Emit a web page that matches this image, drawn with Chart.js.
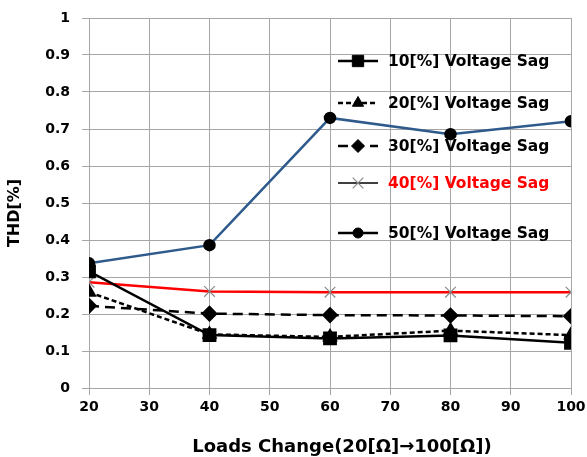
<!DOCTYPE html>
<html><head><meta charset="utf-8">
<script src="https://cdn.jsdelivr.net/npm/chart.js@4/dist/chart.umd.min.js"></script>
<style>html,body{margin:0;padding:0;background:#fff}#wrap{width:587px;height:457px}</style>
</head><body><div id="wrap"><canvas id="c" width="587" height="457"></canvas></div>
<script>
const loads = [20, 40, 60, 80, 100];
const sag10 = [0.315, 0.143, 0.134, 0.142, 0.122];
const sag20 = [0.259, 0.145, 0.138, 0.155, 0.143];
const sag30 = [0.222, 0.201, 0.197, 0.196, 0.194];
const sag40 = [0.286, 0.261, 0.259, 0.259, 0.259];
const sag50 = [0.337, 0.386, 0.730, 0.686, 0.721];
const labels = ['10[%] Voltage Sag','20[%] Voltage Sag','30[%] Voltage Sag','40[%] Voltage Sag','50[%] Voltage Sag'];
const yTitle = 'THD[%]';
const xTitle = 'Loads Change(20[Ω]→100[Ω])';

const pts = arr => arr.map((v,i)=>({x:loads[i], y:v}));
const FONT = '"DejaVu Sans", "Noto Sans", sans-serif';

const datasets = [
  {label:labels[0], data:pts(sag10), borderColor:'#000', backgroundColor:'#000', borderWidth:2.5, pointStyle:'rect', pointRadius:8, legendY:61, textColor:'#000'},
  {label:labels[1], data:pts(sag20), borderColor:'#000', backgroundColor:'#000', borderWidth:2.5, borderDash:[5,3], pointStyle:'triangle', pointRadius:6.5, legendY:103, textColor:'#000'},
  {label:labels[2], data:pts(sag30), borderColor:'#000', backgroundColor:'#000', borderWidth:2.5, borderDash:[10,6], pointStyle:'rectRot', pointRadius:6.5, legendY:146, textColor:'#000'},
  {label:labels[3], data:pts(sag40), borderColor:'#ff0000', backgroundColor:'#888', borderWidth:2.5, pointStyle:'crossRot', pointRadius:7.5, pointBorderColor:'#8a8a8a', pointBorderWidth:1.2, legendY:183, textColor:'#ff0000', legendLine:'#000', legendLineWidth:1.5},
  {label:labels[4], data:pts(sag50), borderColor:'#2e5a8c', backgroundColor:'#000', borderWidth:2.5, pointStyle:'circle', pointRadius:5, pointBorderColor:'#000', pointBackgroundColor:'#000', legendY:233, textColor:'#000', legendLine:'#000'}
];
datasets.forEach(d=>{ d.tension=0; d.fill=false; if(!d.pointBackgroundColor) d.pointBackgroundColor=d.backgroundColor; if(!d.pointBorderColor) d.pointBorderColor=d.backgroundColor; });

const legendPlugin = {
  id:'customLegend',
  afterDraw(chart){
    const ctx = chart.ctx;
    chart.data.datasets.forEach((d,i)=>{
      const y = d.legendY;
      const x0 = 338, x1 = 378, tx = 388;
      ctx.save();
      ctx.strokeStyle = d.legendLine || d.borderColor;
      ctx.lineWidth = d.legendLineWidth || d.borderWidth;
      ctx.setLineDash(d.borderDash || []);
      ctx.beginPath(); ctx.moveTo(x0,y); ctx.lineTo(x1,y); ctx.stroke();
      ctx.setLineDash([]);
      ctx.fillStyle = d.pointBackgroundColor;
      ctx.strokeStyle = d.pointBorderColor;
      ctx.lineWidth = d.pointBorderWidth||1;
      Chart.helpers.drawPoint(ctx, {pointStyle:d.pointStyle, radius:d.pointRadius, borderWidth:d.pointBorderWidth||1}, (x0+x1)/2, y);
      ctx.fillStyle = d.textColor;
      ctx.font = 'bold 15.5px ' + FONT;
      ctx.textBaseline = 'middle';
      ctx.textAlign = 'left';
      ctx.fillText(d.label, tx, y+1);
      ctx.restore();
    });
    // axis titles
    const ca = chart.chartArea;
    ctx.save();
    ctx.fillStyle = '#000';
    ctx.font = 'bold 18px ' + FONT;
    ctx.textAlign = 'center';
    ctx.textBaseline = 'middle';
    ctx.fillText(xTitle, (ca.left+ca.right)/2 + 12, 447);
    ctx.translate(15, (ca.top+ca.bottom)/2 + 10);
    ctx.rotate(-Math.PI/2);
    ctx.font = 'bold 16px ' + FONT;
    ctx.fillText(yTitle, 0, 0);
    ctx.restore();
  }
};

const fmt = v => String(Number(Number(v).toFixed(1)));

new Chart(document.getElementById('c'), {
  type:'line',
  data:{datasets},
  plugins:[legendPlugin],
  options:{
    responsive:false, animation:false,
    layout:{padding:{top:18, right:16, left:0, bottom:0}},
    plugins:{legend:{display:false}, tooltip:{enabled:false}},
    scales:{
      x:{type:'linear', min:20, max:100,
        ticks:{stepSize:10, color:'#000', font:{family:FONT, size:14, weight:'bold'}, padding:4},
        grid:{color:'#a6a6a6', lineWidth:1, tickLength:7, tickColor:'#a6a6a6'},
        border:{color:'#a6a6a6'},
        afterFit(s){ s.height = 69; s.paddingRight = 0; s.paddingLeft = 0; }
      },
      y:{min:0, max:1,
        ticks:{stepSize:0.1, color:'#000', font:{family:FONT, size:14, weight:'bold'}, padding:12, callback:fmt},
        grid:{color:'#a6a6a6', lineWidth:1, tickLength:7, tickColor:'#a6a6a6'},
        border:{color:'#a6a6a6'},
        afterFit(s){ s.width = 89; s.paddingTop = 0; s.paddingBottom = 0; }
      }
    }
  }
});
</script></body></html>
